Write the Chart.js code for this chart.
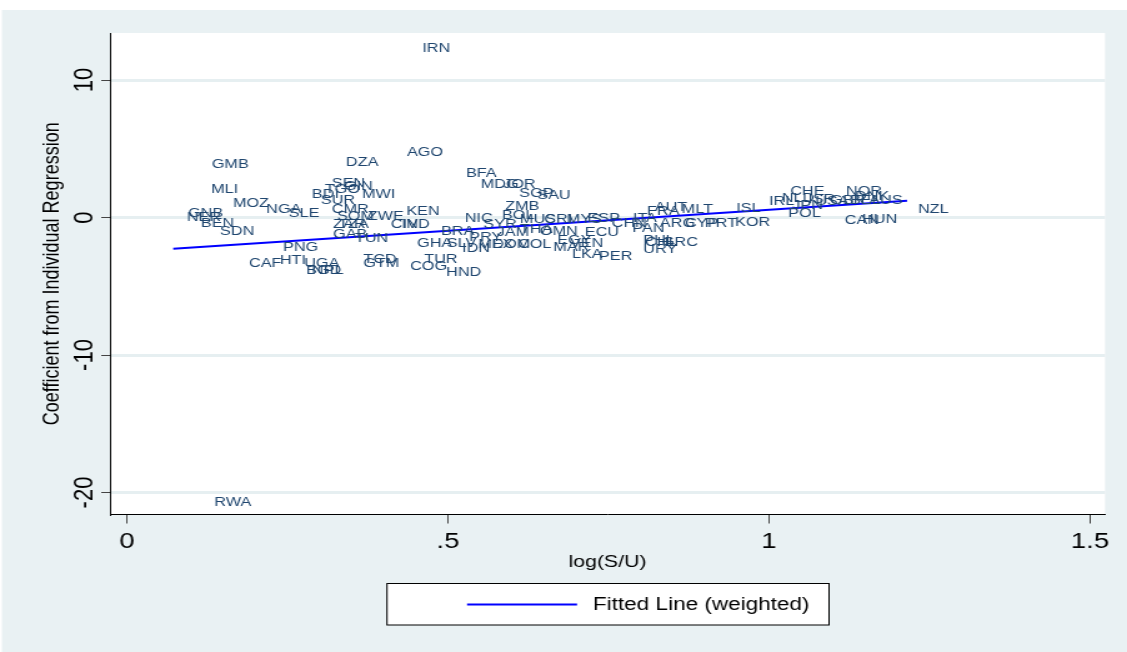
<!DOCTYPE html>
<html lang="en">

<head>
    <meta charset="UTF-8">
    <meta name="viewport" content="width=device-width, initial-scale=1.0">
    <script src="https://cdn.jsdelivr.net/npm/chart.js"></script>
    <title>Coefficient vs log(S/U)</title>
    <style>
        body {
            margin: 0;
            background: #fff;
            overflow: hidden;
        }

        /* the picture is a bit wider than tall, so the whole chart is stretched sideways */
        .grafico {
            width: 902px;
            height: 652px;
            transform: scaleX(1.2495);
            transform-origin: 0 0;
        }
    </style>
</head>

<body>
    <div class="grafico">
        <canvas id="myChartScatter" width="902" height="652"></canvas>
    </div>
</body>

</html>
<script>
    // dados
    var paises = ['IRN', 'GMB', 'DZA', 'AGO', 'MLI', 'MOZ', 'NGA', 'SLE', 'GNB', 'NER',
        'BEN', 'SDN', 'SEN', 'GIN', 'TGO', 'BDI', 'SUR', 'MWI', 'CMR', 'SOM',
        'ZWE', 'ZAR', 'TZA', 'GAB', 'TUN', 'CIV', 'IND', 'KEN', 'PNG', 'CAF',
        'HTI', 'UGA', 'BGD', 'NPL', 'TCD', 'GTM', 'TUR', 'COG', 'HND', 'GHA',
        'SLV', 'BRA', 'PRY', 'IDN', 'MEX', 'DOM', 'COL', 'MAR', 'NIC', 'SYR',
        'BOL', 'ZMB', 'JAM', 'MUS', 'CRI', 'MYS', 'ESP', 'THA', 'OMN', 'ECU',
        'EGY', 'VEN', 'LKA', 'PER', 'BFA', 'MDG', 'JOR', 'SGP', 'SAU', 'CHN',
        'ITA', 'PAN', 'ARG', 'FRA', 'AUT', 'MLT', 'CYP', 'PRT', 'KOR', 'PHL',
        'CHL', 'URY', 'GRC', 'ISL', 'IRL', 'NLD', 'POL', 'CHE', 'ISR', 'JPN',
        'USA', 'GBR', 'BEL', 'AUS', 'NOR', 'DNK', 'CAN', 'HUN', 'NZL', 'RWA'];

    var logSU = [0.460, 0.132, 0.341, 0.436, 0.131, 0.165, 0.217, 0.252, 0.095, 0.093,
        0.115, 0.145, 0.319, 0.338, 0.308, 0.288, 0.302, 0.366, 0.319, 0.327,
        0.375, 0.321, 0.329, 0.321, 0.355, 0.411, 0.428, 0.435, 0.243, 0.190,
        0.238, 0.276, 0.279, 0.288, 0.368, 0.368, 0.463, 0.441, 0.497, 0.452,
        0.498, 0.489, 0.533, 0.522, 0.547, 0.569, 0.609, 0.664, 0.526, 0.555,
        0.584, 0.589, 0.576, 0.612, 0.650, 0.685, 0.717, 0.612, 0.643, 0.713,
        0.670, 0.690, 0.693, 0.735, 0.528, 0.551, 0.586, 0.611, 0.639, 0.755,
        0.788, 0.787, 0.830, 0.810, 0.822, 0.864, 0.869, 0.900, 0.947, 0.804,
        0.807, 0.804, 0.833, 0.949, 1.000, 1.020, 1.030, 1.033, 1.061, 1.036,
        1.072, 1.095, 1.126, 1.156, 1.120, 1.134, 1.118, 1.145, 1.232, 0.136];

    var coeficiente = [12.33, 3.89, 4.04, 4.76, 2.07, 1.05, 0.62, 0.33, 0.33, 0.04,
        -0.40, -0.98, 2.51, 2.29, 2.07, 1.71, 1.27, 1.71, 0.62, 0.11,
        0.11, -0.47, -0.47, -1.20, -1.49, -0.47, -0.47, 0.47, -2.15, -3.31,
        -3.09, -3.31, -3.82, -3.82, -3.02, -3.31, -3.02, -3.53, -3.96, -1.85,
        -1.85, -0.98, -1.42, -2.22, -1.93, -1.93, -1.93, -2.15, -0.04, -0.47,
        0.18, 0.84, -1.05, -0.11, -0.11, -0.11, -0.04, -0.84, -0.98, -1.05,
        -1.64, -1.85, -2.65, -2.80, 3.24, 2.44, 2.44, 1.78, 1.64, -0.40,
        -0.04, -0.76, -0.40, 0.47, 0.76, 0.62, -0.40, -0.40, -0.33, -1.64,
        -1.78, -2.29, -1.78, 0.69, 1.20, 1.42, 0.33, 1.93, 1.35, 0.91,
        1.20, 1.27, 1.27, 1.27, 1.93, 1.56, -0.18, -0.11, 0.62, -20.69];

    // reta ajustada (ponderada)
    var retaX = [0.072, 1.215];
    var retaY = [-2.27, 1.22];

    var xTicks = [0, 0.5, 1, 1.5];
    var xTickLabels = ['0', '.5', '1', '1.5'];
    var yTicks = [-20, -10, 0, 10];
    var yTickLabels = ['-20', '-10', '0', '10'];

    var fonte = '"Liberation Sans", Arial, sans-serif';

    let pontos = [];
    for (let i = 0; i < paises.length; i++) {
        pontos.push({ x: logSU[i], y: coeficiente[i] });
    }
    let reta = [];
    for (let i = 0; i < retaX.length; i++) {
        reta.push({ x: retaX[i], y: retaY[i] });
    }

    // fundo azulado + area do grafico branca
    const fundo = {
        id: 'fundo',
        beforeDraw(chart) {
            const c = chart.ctx;
            const a = chart.chartArea;
            c.save();
            c.fillStyle = '#ffffff';
            c.fillRect(0, 0, chart.width, chart.height);
            c.fillStyle = '#e9f1f3';
            c.fillRect(1.6, 10, chart.width, chart.height);
            c.fillStyle = '#ffffff';
            c.fillRect(a.left, a.top, a.right - a.left, a.bottom - a.top);
            c.restore();
        }
    };

    // codigo do pais no lugar do marcador
    const rotulos = {
        id: 'rotulos',
        afterDatasetsDraw(chart) {
            const meta = chart.getDatasetMeta(0);
            const c = chart.ctx;
            c.save();
            c.font = '13px ' + fonte;
            c.fillStyle = '#1f466f';
            c.textAlign = 'left';
            c.textBaseline = 'middle';
            meta.data.forEach(function (p, i) {
                c.fillText(paises[i], p.x, p.y);
            });
            c.restore();
        }
    };

    // rotulos do eixo y (giram 90 graus) e a legenda com moldura
    const extras = {
        id: 'extras',
        afterDraw(chart) {
            const c = chart.ctx;
            const y = chart.scales.y;
            c.save();
            c.font = '22px ' + fonte;
            c.fillStyle = '#000';
            c.textAlign = 'center';
            c.textBaseline = 'middle';
            for (let i = 0; i < yTicks.length; i++) {
                c.save();
                c.translate(68, y.getPixelForValue(yTicks[i]));
                c.rotate(-Math.PI / 2);
                c.fillText(yTickLabels[i], 0, 0);
                c.restore();
            }

            const ds = chart.data.datasets[1];
            c.fillStyle = '#fff';
            c.fillRect(309.7, 583, 353.8, 42);
            c.strokeStyle = '#000';
            c.lineWidth = 1;
            c.strokeRect(309.7, 583.5, 353.8, 41.5);
            c.strokeStyle = ds.borderColor;
            c.lineWidth = 2;
            c.beginPath();
            c.moveTo(373.8, 604.5);
            c.lineTo(461.8, 604.5);
            c.stroke();
            c.font = '18px ' + fonte;
            c.fillStyle = '#000';
            c.textAlign = 'left';
            c.fillText(ds.label, 474.6, 605);
            c.restore();
        }
    };

    const config = {
        type: 'scatter',
        data: {
            datasets: [{
                label: 'paises',
                data: pontos,
                pointRadius: 0,
                pointHoverRadius: 0
            }, {
                label: 'Fitted Line (weighted)',
                data: reta,
                showLine: true,
                borderColor: '#0000ff',
                borderWidth: 2,
                pointRadius: 0,
                pointHoverRadius: 0
            }]
        },
        options: {
            responsive: false,
            animation: false,
            devicePixelRatio: 1,
            layout: { padding: { left: 0, right: 17.6, top: 33, bottom: 0 } },
            plugins: {
                legend: { display: false },
                tooltip: { enabled: false }
            },
            scales: {
                x: {
                    type: 'linear',
                    min: -0.0265,
                    max: 1.5234,
                    afterBuildTicks: function (scale) {
                        scale.ticks = xTicks.map(v => ({ value: v }));
                    },
                    afterFit: function (scale) { scale.height = 137.5; },
                    ticks: {
                        color: '#000',
                        font: { size: 22, family: fonte },
                        padding: 5,
                        maxRotation: 0,
                        callback: function (v) { return xTickLabels[xTicks.indexOf(v)]; }
                    },
                    grid: {
                        drawOnChartArea: false,
                        tickLength: 9,
                        tickColor: '#444',
                        tickWidth: 1
                    },
                    border: { display: true, color: '#000', width: 1 },
                    title: {
                        display: true,
                        text: 'log(S/U)',
                        color: '#000',
                        font: { size: 17, family: fonte },
                        padding: { top: 0, bottom: 79 }
                    }
                },
                y: {
                    type: 'linear',
                    min: -21.6,
                    max: 13.42,
                    afterBuildTicks: function (scale) {
                        scale.ticks = yTicks.map(v => ({ value: v }));
                    },
                    afterFit: function (scale) { scale.width = 88; },
                    ticks: { display: false },
                    grid: {
                        color: '#e6eff1',
                        lineWidth: 3,
                        tickLength: 7,
                        tickColor: '#444',
                        tickWidth: 1
                    },
                    border: { display: true, color: '#000', width: 1 },
                    title: {
                        display: true,
                        text: 'Coefficient from Individual Regression',
                        color: '#000',
                        font: { size: 18, family: fonte },
                        padding: { top: 30.8, bottom: 0 }
                    }
                }
            }
        },
        plugins: [fundo, rotulos, extras]
    };

    let myChart = new Chart(document.getElementById('myChartScatter'), config);
</script>
